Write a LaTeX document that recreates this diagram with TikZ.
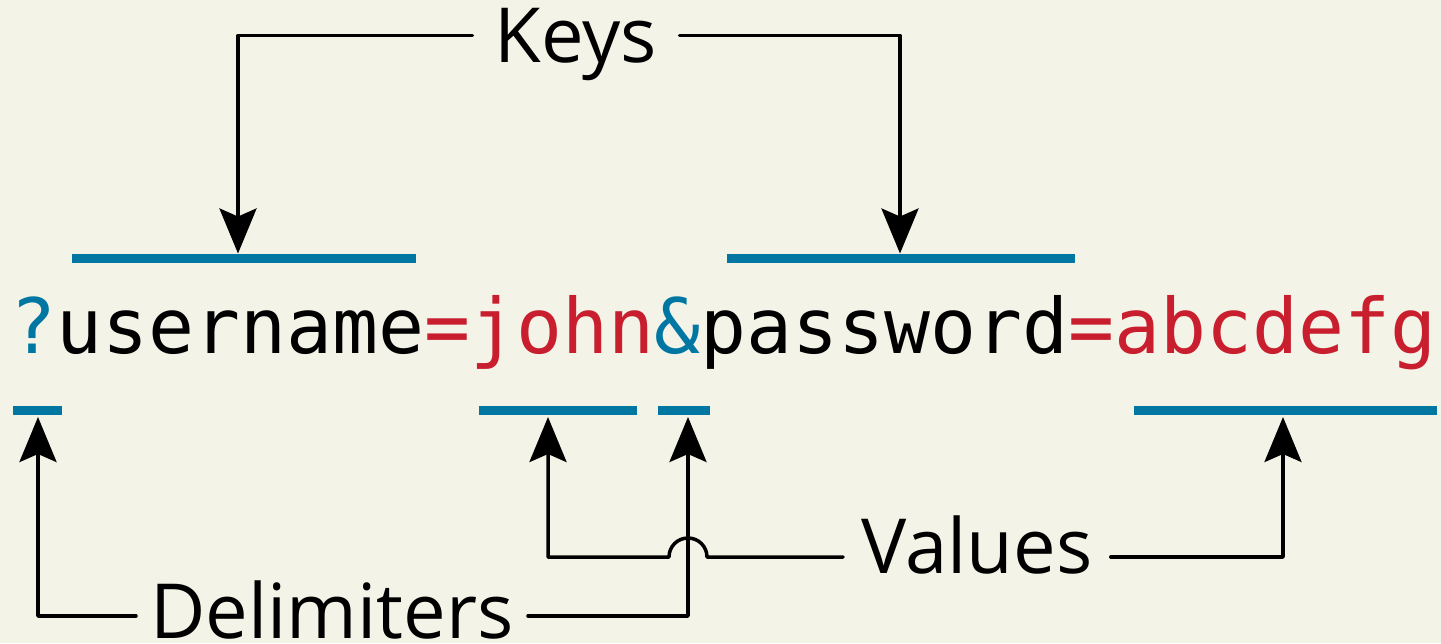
\documentclass[tikz,border=0pt]{standalone}
\usepackage{fontspec}
\setmainfont{Open Sans}
\newfontfamily\urlfont{DejaVu Sans Mono}
\usetikzlibrary{arrows.meta}
\definecolor{bg}{HTML}{F3F3E8}
\definecolor{qblue}{HTML}{0077A3}
\definecolor{qred}{HTML}{C81E2D}
\begin{document}
\begin{tikzpicture}[x=0.5pt,y=-0.5pt,
  conn/.style={line width=1.75pt, line cap=round, line join=round,
    -{Stealth[length=22.5pt,width=18.5pt,inset=4pt]}},
  bar/.style={line width=4.5pt, draw=qblue},
  lbl/.style={font=\fontsize{38pt}{40pt}\selectfont, inner ysep=0pt, text depth=0pt}]
\fill[bg] (0,0) rectangle (1441,643);
\useasboundingbox (0,0) rectangle (1441,643);

% query string
\node[inner sep=0pt, anchor=base west, font=\urlfont\fontsize{38.2pt}{40pt}\selectfont] (url) at (10,353)
  {\textcolor{qblue}{?}username\textcolor{qred}{=john}\textcolor{qblue}{\&}password\textcolor{qred}{=abcdefg}};

% bars
\draw[bar] (72,258) -- (416,258);
\draw[bar] (727,258) -- (1075,258);
\draw[bar] (13,410.5) -- (62,410.5);
\draw[bar] (479,410.5) -- (637,410.5);
\draw[bar] (658,410.5) -- (710,410.5);
\draw[bar] (1134,410.5) -- (1437,410.5);

% arrow targets
\coordinate (kt1) at (238,253.5);
\coordinate (kt2) at (900,253.5);
\coordinate (dt1) at (38,417);
\coordinate (dt2) at (688,417);
\coordinate (vt1) at (548,417);
\coordinate (vt2) at (1283,417);

% labels
\node[lbl, text height=26.5pt, inner xsep=11pt] (keys) at (576,35.5) {Keys};
\node[lbl, text height=22pt, inner xsep=7pt] (delims) at (332,616) {Delimiters};
\node[lbl, text height=16pt, inner xsep=9pt] (values) at (977,557) {Values};

% connectors
\draw[conn] (keys.west) -| (kt1);
\draw[conn] (keys.east) -| (kt2);
\draw[conn] (delims.west) -| (dt1);
\draw[conn] (delims.east) -| (dt2);
\coordinate (jr) at (707,557);
\coordinate (jl) at (669,557);
\draw[conn] (values.west) -- (jr) .. controls (707,546.5) and (698.5,538) .. (688,538)
  .. controls (677.5,538) and (669,546.5) .. (jl) -- (vt1 |- jl) -- (vt1);
\draw[conn] (values.east) -| (vt2);
\end{tikzpicture}
\end{document}
